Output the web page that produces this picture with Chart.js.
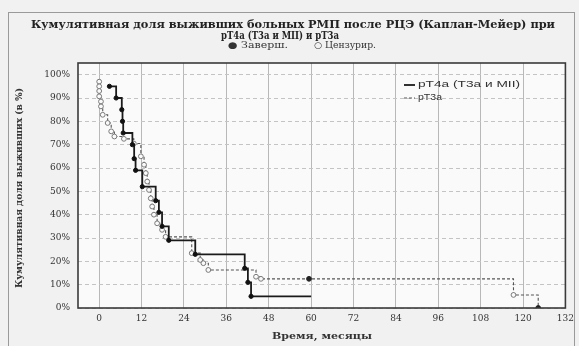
<!DOCTYPE html>
<html>
<head>
<meta charset="utf-8">
<script src="https://cdn.jsdelivr.net/npm/chart.js@4.4.1/dist/chart.umd.min.js"></script>
<style>
  html, body { margin: 0; padding: 0; background: #efefef; }
  #wrap { width: 579px; height: 346px; }
</style>
</head>
<body>
<div id="wrap"><canvas id="km" width="579" height="346"></canvas></div>
<script>
// Каплан-Мейер: pT4a (T3a и MII) — сплошная, pT3a — пунктир
const solidX = [2.9, 4.8, 6.4, 6.6, 6.8, 9.4, 9.9, 10.3, 12.2, 16, 16.9, 17.8, 19.7, 27.2, 41.2, 42.1, 43, 60];
const solidY = [95, 90, 85, 80, 75, 70, 64, 59, 52, 46, 41, 35, 29, 23, 17, 11, 5, 5];
// 1 = завершенное наблюдение, 0 = цензурированное, null = без маркера
const solidStatus = [1, 1, 1, 1, 1, 1, 1, 1, 1, 1, 1, 1, 1, 1, 1, 1, 1, null];

const dashX = [0, 0, 0, 0, 0.5, 0.5, 1, 2.4, 3.4, 4.3, 7, 9.8, 11.8, 12.7, 13.2, 13.6, 14.1, 14.6, 15, 15.5, 16.4, 17.8, 18.8, 26.2, 28.6, 29.5, 30.9, 44.4, 45.8, 59.4, 117.3, 124.3];
const dashY = [97, 95, 93, 90.7, 88.5, 86.4, 82.8, 79.3, 75.7, 73.5, 72.5, 70.5, 65, 61.4, 57.8, 54.2, 50.6, 47, 43.5, 40, 36.3, 33.5, 30.5, 23.5, 20.6, 19.2, 16.3, 13.4, 12.5, 12.5, 5.6, 0];
const dashStatus = [0, 0, 0, 0, 0, 0, 0, 0, 0, 0, 0, 0, 0, 0, 0, 0, 0, 0, 0, 0, 0, 0, 0, 0, 0, 0, 0, 0, 0, 1, 0, 1];

const xTicks = [0, 12, 24, 36, 48, 60, 72, 84, 96, 108, 120, 132];
const yTicks = [0, 10, 20, 30, 40, 50, 60, 70, 80, 90, 100];

const seriesNames = ['pT4a (T3a и MII)', 'pT3a'];
const titleLines = [
  'Кумулятивная доля выживших больных РМП после РЦЭ (Каплан-Мейер) при',
  'pT4a (T3a и MII) и pT3a'
];
const markerNote = ['● Заверш.', '○ Цензурир.'];
const yTitle = 'Кумулятивная доля выживших (в %)';
const xTitle = 'Время, месяцы';

// текст, растянутый по ширине как на скане
function fitText(ctx, text, cx, cy, width, font, color, angle, align) {
  ctx.save();
  ctx.font = font;
  ctx.fillStyle = color;
  ctx.textBaseline = 'middle';
  ctx.textAlign = align || 'center';
  const w = ctx.measureText(text).width;
  ctx.translate(cx, cy);
  if (angle) ctx.rotate(angle);
  ctx.scale(width / w, 1);
  ctx.fillText(text, 0, 0);
  ctx.restore();
}

const decor = {
  id: 'decor',
  beforeDraw(chart) {
    const { ctx, chartArea: a } = chart;
    ctx.save();
    ctx.fillStyle = '#f1f1f1';
    ctx.fillRect(0, 0, chart.width, chart.height);
    ctx.strokeStyle = '#9a9a9a';
    ctx.lineWidth = 1;
    ctx.strokeRect(8.5, 12.5, 566, 340);
    ctx.fillStyle = '#fafafa';
    ctx.fillRect(a.left, a.top, a.right - a.left, a.bottom - a.top);
    ctx.restore();
  },
  afterDraw(chart) {
    const { ctx, chartArea: a } = chart;
    ctx.save();
    ctx.strokeStyle = '#3a3a3a';
    ctx.lineWidth = 1.6;
    ctx.strokeRect(a.left, a.top, a.right - a.left, a.bottom - a.top);

    const serifB = 'bold 11px "DejaVu Serif", "Liberation Serif", serif';
    fitText(ctx, titleLines[0], 293, 25, 524, serifB, '#222');
    fitText(ctx, titleLines[1], 280, 36, 118, serifB, '#222');
    fitText(ctx, markerNote[0], 258, 46, 60, '9px "DejaVu Serif", serif', '#333');
    fitText(ctx, markerNote[1], 345, 46, 62, '9px "DejaVu Serif", serif', '#333');
    fitText(ctx, yTitle, 20, 188, 200, 'bold 9px "DejaVu Serif", serif', '#333', -Math.PI / 2);
    fitText(ctx, xTitle, 322, 337, 100, 'bold 9px "DejaVu Serif", serif', '#333');

    // легенда внутри области графика
    ctx.strokeStyle = '#1a1a1a';
    ctx.lineWidth = 1.8;
    ctx.beginPath(); ctx.moveTo(404, 85); ctx.lineTo(415, 85); ctx.stroke();
    ctx.strokeStyle = '#555';
    ctx.lineWidth = 1.1;
    ctx.setLineDash([3, 2]);
    ctx.beginPath(); ctx.moveTo(404, 98); ctx.lineTo(415, 98); ctx.stroke();
    ctx.setLineDash([]);
    fitText(ctx, seriesNames[0], 418, 85, 102, '9px "Liberation Sans", Arial, sans-serif', '#333', 0, 'left');
    fitText(ctx, seriesNames[1], 418, 98, 24, '9px "Liberation Sans", Arial, sans-serif', '#333', 0, 'left');
    ctx.restore();
  }
};

const tickFont = { family: '"DejaVu Serif", "Liberation Serif", serif', size: 9 };

new Chart(document.getElementById('km'), {
  type: 'line',
  data: {
    datasets: [
      {
        label: seriesNames[0],
        data: solidX.map((x, i) => ({ x: x, y: solidY[i] })),
        stepped: true,
        borderColor: '#1a1a1a',
        borderWidth: 1.8,
        pointRadius: c => solidStatus[c.dataIndex] === null ? 0 : 2.1,
        pointBackgroundColor: c => solidStatus[c.dataIndex] ? '#111' : '#f9f9f9',
        pointBorderColor: '#111',
        pointBorderWidth: 1
      },
      {
        label: seriesNames[1],
        data: dashX.map((x, i) => ({ x: x, y: dashY[i] })),
        stepped: true,
        borderColor: '#555',
        borderWidth: 1.1,
        borderDash: [3, 2],
        pointRadius: 2.4,
        pointBackgroundColor: c => dashStatus[c.dataIndex] ? '#222' : '#fafafa',
        pointBorderColor: c => dashStatus[c.dataIndex] ? '#222' : '#7a7a7a',
        pointBorderWidth: 1
      }
    ]
  },
  options: {
    responsive: false,
    animation: false,
    events: [],
    layout: { padding: { left: 0, right: 11, top: 63, bottom: 0 } },
    plugins: {
      legend: { display: false },
      title: { display: false },
      tooltip: { enabled: false }
    },
    scales: {
      x: {
        type: 'linear',
        min: -6,
        max: 132,
        afterBuildTicks: s => { s.ticks = xTicks.map(v => ({ value: v })); },
        afterFit: s => { s.height = 38; },
        grid: { color: '#b8b8b8', lineWidth: 1, drawTicks: false },
        border: { display: false },
        ticks: { font: tickFont, color: '#333', padding: 5, maxRotation: 0, autoSkip: false }
      },
      y: {
        min: 0,
        max: 105,
        afterBuildTicks: s => { s.ticks = yTicks.map(v => ({ value: v })); },
        afterFit: s => { s.width = 78; },
        grid: { color: '#c4c4c4', lineWidth: 1, drawTicks: false },
        border: { display: false, dash: [4, 3] },
        ticks: { font: tickFont, color: '#333', padding: 8, callback: v => v + '%' }
      }
    }
  },
  plugins: [decor]
});
</script>
</body>
</html>
